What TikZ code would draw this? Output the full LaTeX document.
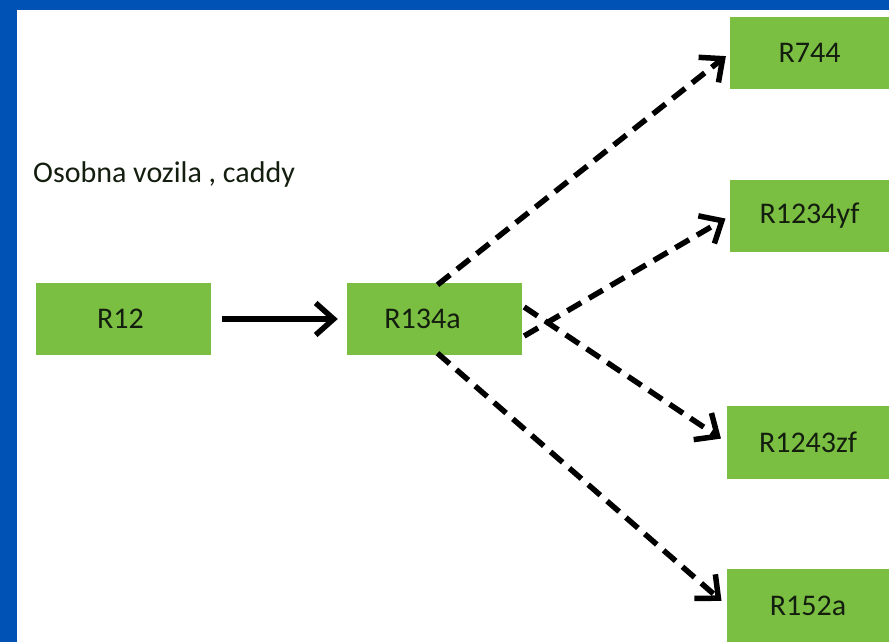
\documentclass[tikz,border=0pt]{standalone}
\usepackage{fontspec}
\setmainfont{Carlito}
\usetikzlibrary{arrows.meta}
\definecolor{frameblue}{RGB}{0,82,180}
\definecolor{boxgreen}{RGB}{122,190,66}
\definecolor{txt}{RGB}{20,30,15}
\tikzset{
  refbox/.style={rectangle, fill=boxgreen, minimum height=72pt, inner sep=0pt, text=txt, font=\fontsize{30}{34}\selectfont},
  solidarrow/.style={line width=5.5pt, -{Straight Barb[length=18pt,width=32pt,line width=5.5pt]}},
  dasharrow/.style={solidarrow, dash pattern=on 16pt off 9pt}
}
\begin{document}
\begin{tikzpicture}[x=1pt,y=-1pt]
\useasboundingbox (0,0) rectangle (889,642);
\fill[frameblue] (0,0) rectangle (889,642);
\fill[white] (17,10) rectangle (889,642);
\begin{scope}
\clip (0,0) rectangle (889,642);
\node[refbox, minimum width=175pt] (r12) at (123.5,319) {\hspace*{-6pt}R12};
\node[refbox, minimum width=175pt] (r134a) at (434.5,319) {\hspace*{-24pt}R134a};
\node[refbox, minimum width=159pt] (r744) at (809.5,53) {R744};
\node[refbox, minimum width=159pt] (r1234yf) at (809.5,216) {R1234yf};
\node[refbox, minimum width=162pt, minimum height=73pt] (r1243zf) at (808,442.5) {R1243zf};
\node[refbox, minimum width=162pt, minimum height=73pt] (r152a) at (808,605.5) {R152a};
\end{scope}
\node[anchor=base west, inner sep=0pt, text=txt, font=\fontsize{30}{34}\selectfont] (lbl) at (33,182) {Osobna vozila , caddy};
\draw[solidarrow, shorten <=11pt, shorten >=9pt] (r12.east) -- (r134a.west);
\draw[dasharrow, shorten >=5pt] ([xshift=3pt,yshift=-2pt]r134a.north) -- (r744.west);
\draw[dasharrow, shorten >=5pt] ([xshift=2pt,yshift=-17pt]r134a.east) -- (r1234yf.west);
\draw[dasharrow, shorten >=7pt] ([xshift=2pt,yshift=12pt]r134a.east) -- (r1243zf.west);
\draw[dasharrow, shorten >=7pt] ([xshift=3pt,yshift=2pt]r134a.south) -- (r152a.west);
\end{tikzpicture}
\end{document}
